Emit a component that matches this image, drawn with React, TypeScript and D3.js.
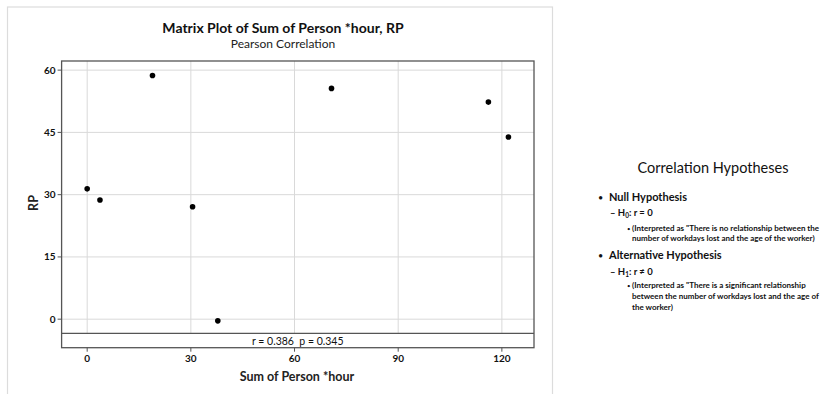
import * as d3 from 'd3';
import React from 'react';

// scatter values
const personHour = [0, 3.7, 18.9, 30.5, 37.8, 70.7, 116.1, 121.9];
const rpValues = [31.4, 28.7, 58.7, 27.1, -0.4, 55.6, 52.3, 43.9];
const xTicks = [0, 30, 60, 90, 120];
const yTicks = [0, 15, 30, 45, 60];
const corrText = 'r = 0.386  p = 0.345';

const hypoLines = [
	{ kind: 'bullet', text: 'Null Hypothesis' },
	{ kind: 'dash', text: 'H', sub: '0', rest: ': r = 0' },
	{ kind: 'small', text: '(Interpreted as "There is no relationship between the' },
	{ kind: 'cont', text: 'number of workdays lost and the age of the worker)' },
	{ kind: 'bullet', text: 'Alternative Hypothesis' },
	{ kind: 'dash', text: 'H', sub: '1', rest: ': r \u2260 0' },
	{ kind: 'small', text: '(Interpreted as "There is a significant relationship' },
	{ kind: 'cont', text: 'between the number of workdays lost and the age of' },
	{ kind: 'cont', text: 'the worker)' },
];
const hypoY = [201, 216, 231, 241, 259, 275, 288, 299, 310];

const font = 'Lato, "Open Sans", sans-serif';

const App = () => {
	const box = { left: 61.6, right: 534, top: 61, strip: 333.3, bottom: 347.7 };

	const x = d3.scaleLinear().domain([-7.4, 129.3]).range([box.left, box.right]);
	const y = d3.scaleLinear().domain([-3.4, 62.2]).range([box.strip, box.top]);

	return (
		<svg width={834} height={394} style={{ position: 'absolute', left: 0, top: 0, background: '#fff' }} fontFamily={font}>
			<rect x={0} y={0} width={834} height={394} fill="#fff" />
			{/* outer graph frame */}
			<rect x={7.5} y={7} width={545} height={400} fill="none" stroke="#dcdcdc" strokeWidth={1.2} />

			<text x={283} y={33} textAnchor="middle" fontSize={14} fontWeight="bold" fill="#111">
				Matrix Plot of Sum of Person *hour, RP
			</text>
			<text x={283} y={48} textAnchor="middle" fontSize={12} fill="#222">
				Pearson Correlation
			</text>

			{/* gridlines */}
			{xTicks.map(t => (
				<line key={'gx' + t} x1={x(t)} x2={x(t)} y1={box.top} y2={box.strip} stroke="#d9d9d9" strokeWidth={1} />
			))}
			{yTicks.map(t => (
				<line key={'gy' + t} x1={box.left} x2={box.right} y1={y(t)} y2={y(t)} stroke="#d9d9d9" strokeWidth={1} />
			))}

			{/* points */}
			{personHour.map((v, i) => (
				<circle key={i} cx={x(v)} cy={y(rpValues[i])} r={2.8} fill="#000" />
			))}

			{/* plot box and correlation strip */}
			<rect x={box.left} y={box.top} width={box.right - box.left} height={box.bottom - box.top} fill="none" stroke="#555" strokeWidth={1.3} />
			<line x1={box.left} x2={box.right} y1={box.strip} y2={box.strip} stroke="#555" strokeWidth={1.3} />
			<text x={(box.left + box.right) / 2} y={345} textAnchor="middle" fontSize={10.5} fill="#111" style={{ whiteSpace: 'pre' }}>
				{corrText}
			</text>

			{/* y axis */}
			{yTicks.map(t => (
				<g key={'yt' + t}>
					<line x1={box.left - 4} x2={box.left} y1={y(t)} y2={y(t)} stroke="#555" />
					<text x={box.left - 6} y={y(t) + 3.5} textAnchor="end" fontSize={10} fontWeight="bold" fill="#111">{t}</text>
				</g>
			))}
			{/* x axis */}
			{xTicks.map(t => (
				<g key={'xt' + t}>
					<line x1={x(t)} x2={x(t)} y1={box.bottom} y2={box.bottom + 4} stroke="#555" />
					<text x={x(t)} y={362} textAnchor="middle" fontSize={10} fontWeight="bold" fill="#111">{t}</text>
				</g>
			))}

			<text x={297} y={381} textAnchor="middle" fontSize={12.5} fontWeight="bold" fill="#222">
				Sum of Person *hour
			</text>
			<text transform="translate(38,203) rotate(-90)" textAnchor="middle" fontSize={12.5} fontWeight="bold" fill="#222">
				RP
			</text>

			{/* hypotheses text */}
			<text x={713} y={173} textAnchor="middle" fontSize={14.5} fill="#111">Correlation Hypotheses</text>
			{hypoLines.map((l, i) => {
				const yy = hypoY[i];
				if (l.kind === 'bullet') {
					return (
						<g key={i}>
							<text x={598} y={yy} fontSize={9} fill="#111">{'\u2022'}</text>
							<text x={609} y={yy} fontSize={11} fontWeight="bold" fill="#111">{l.text}</text>
						</g>
					);
				}
				if (l.kind === 'dash') {
					return (
						<text key={i} x={610} y={yy} fontSize={9.5} fontWeight="bold" fill="#111">
							{'\u2013 ' + l.text}
							<tspan fontSize={6.5} dy={2}>{l.sub}</tspan>
							<tspan dy={-2}>{l.rest}</tspan>
						</text>
					);
				}
				return (
					<g key={i}>
						{l.kind === 'small' && <text x={627} y={yy} fontSize={6} fill="#111">{'\u2022'}</text>}
						<text x={632} y={yy} fontSize={8} fontWeight="bold" fill="#111">{l.text}</text>
					</g>
				);
			})}
		</svg>
	);
};

export default App;
